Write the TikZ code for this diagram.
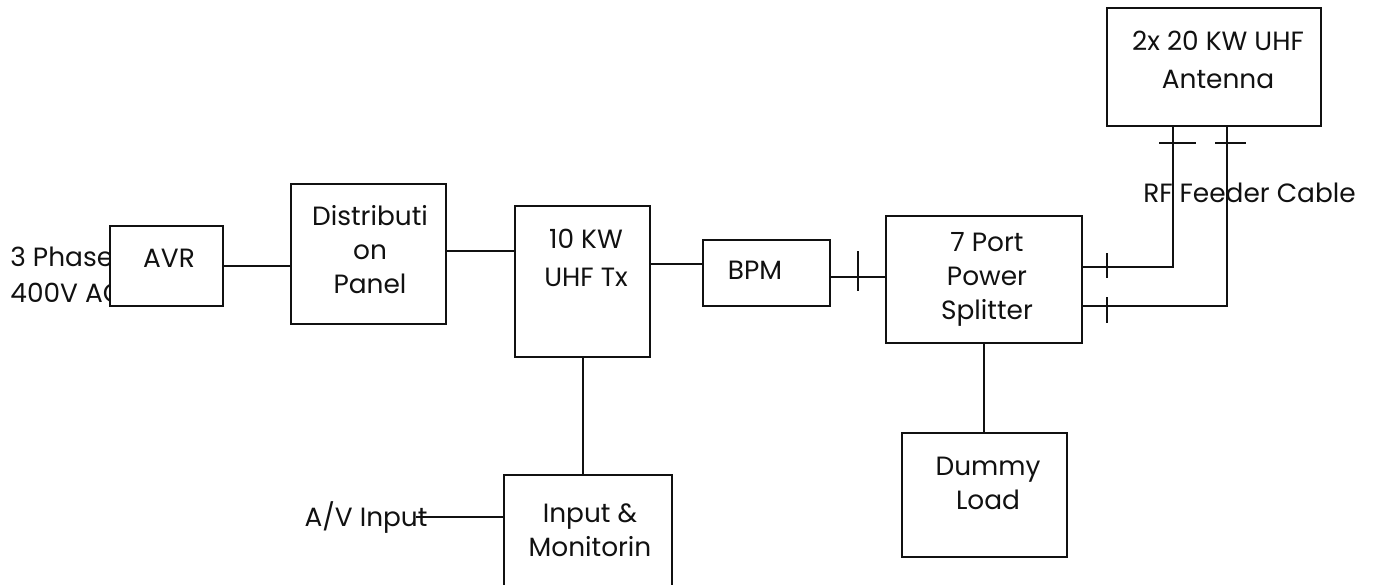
\documentclass[tikz,border=0pt]{standalone}
\usepackage{fontspec}
\setmainfont{Poppins}
\usepackage{tikz}
\definecolor{txInk}{HTML}{111111}
\tikzset{
  tx diagram/.style={x=0.5pt, y=-0.5pt, text=txInk,
    font=\fontsize{13.2}{17}\selectfont},
  tx box/.style={draw=txInk, fill=white, line width=1pt, inner sep=0pt},
  tx text/.style={align=center, inner sep=0pt},
  tx wide text/.style={tx text, font=\fontsize{13.2}{19.2}\selectfont},
  tx line/.style={draw=txInk, line width=1pt},
  tx tick/.style={draw=txInk, line width=1pt}
}

\begin{document}
\begin{tikzpicture}[tx diagram]
\useasboundingbox (0,0) rectangle (1385,584);
% supply side
\node[tx text, align=left, anchor=west, font=\fontsize{13.2}{18}\selectfont] (mains) at (10,275) {3 Phase\\400V AC};
\node[tx box, minimum width=56.5pt, minimum height=40pt] (avr) at (166.5,266) {};
\node[tx text] (avrtext) at (169,258) {AVR};
\node[tx box, minimum width=77.5pt, minimum height=70pt] (dist) at (368.5,254) {};
\node[tx text] (disttext) at (370,250) {Distributi\\on\\Panel};
% transmitter chain
\node[tx box, minimum width=67.5pt, minimum height=75.5pt] (tx) at (582.5,281.5) {};
\node[tx wide text] (txtext) at (586,258) {10 KW\\UHF Tx};
\node[tx box, minimum width=63.5pt, minimum height=33pt] (bpm) at (766.5,273) {};
\node[tx text] (bpmtext) at (755,270) {BPM};
\node[tx box, minimum width=98pt, minimum height=63.5pt] (split) at (984,279.5) {};
\node[tx text] (splittext) at (987,279) {7 Port\\Power\\Splitter};
\node[tx box, minimum width=107pt, minimum height=59pt] (ant) at (1214,67) {};
\node[tx wide text] (anttext) at (1218,60) {2x 20 KW UHF\\Antenna};
\node[tx box, minimum width=82.5pt, minimum height=62pt] (dummy) at (984.5,495) {};
\node[tx text] (dummytext) at (988,483) {Dummy\\Load};
\node[tx box, minimum width=84pt, minimum height=62.5pt] (inmon) at (588,537.5) {};
\node[tx text] (inmontext) at (590,530) {Input \&\\Monitorin};
\node[tx text] (avin) at (366,517) {A/V Input};
\node[tx text] (feeder) at (1249.5,193) {RF Feeder Cable};
% connections
\draw[tx line] (avr.east) -- (avr.east -| dist.west);
\draw[tx line] ([yshift=1.5pt]dist.east) -- ([yshift=1.5pt]dist.east -| tx.west);
\draw[tx line] ([yshift=4.5pt]bpm.west) -- ([yshift=4.5pt]bpm.west -| tx.east);
\draw[tx line] ([yshift=-2pt]bpm.east) -- ([yshift=-2pt]bpm.east -| split.west);
\draw[tx line] ([yshift=6.25pt]split.east) -| ([xshift=-20.5pt]ant.south);
\draw[tx line] ([yshift=-13.25pt]split.east) -| ([xshift=6.5pt]ant.south);
\draw[tx line] (split.south) -- (split.south |- dummy.north);
\draw[tx line] (tx.south) -- (tx.south |- inmon.north);
\draw[tx line] ([xshift=-6pt]avin.east) -- (avin.east -| inmon.west);
% connector marks
\draw[tx tick] (858,251) -- (858,291);
\draw[tx tick] (1107,253) -- (1107,278);
\draw[tx tick] (1107,297) -- (1107,323);
\draw[tx tick] (1159,143) -- (1196,143);
\draw[tx tick] (1215,143) -- (1246,143);
\end{tikzpicture}
\end{document}
